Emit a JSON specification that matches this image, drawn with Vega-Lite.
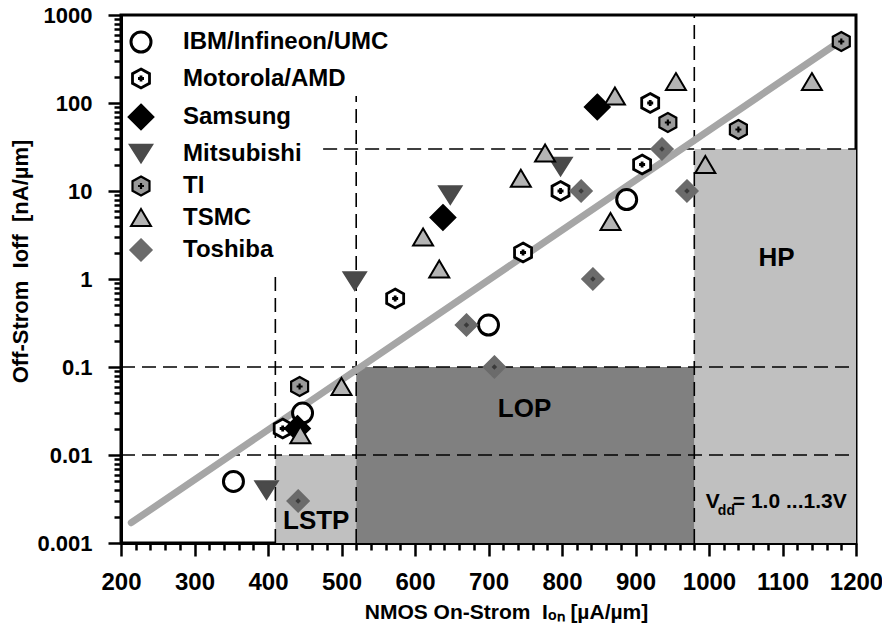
{
  "$schema": "https://vega.github.io/schema/vega-lite/v6.json",
  "width": 735,
  "height": 528,
  "autosize": {"type": "none"},
  "padding": {"left": 121, "top": 15, "right": 26, "bottom": 96},
  "background": "white",
  "config": {
    "font": "Liberation Sans",
    "view": {"stroke": "black", "strokeWidth": 3},
    "axis": {
      "grid": false,
      "domainColor": "black",
      "domainWidth": 3,
      "tickColor": "black",
      "tickWidth": 2.5,
      "labelColor": "black",
      "labelFontWeight": "bold",
      "titleColor": "black",
      "titleFontWeight": "bold",
      "labelFlush": false,
      "labelOverlap": false
    }
  },
  "datasets": {
    "points": [
      {"maker": "IBM/Infineon/UMC", "ion": 353, "ioff": 0.005},
      {"maker": "IBM/Infineon/UMC", "ion": 447, "ioff": 0.03},
      {"maker": "IBM/Infineon/UMC", "ion": 700, "ioff": 0.3},
      {"maker": "IBM/Infineon/UMC", "ion": 888, "ioff": 8},
      {"maker": "Motorola/AMD", "ion": 420, "ioff": 0.02},
      {"maker": "Motorola/AMD", "ion": 573, "ioff": 0.6},
      {"maker": "Motorola/AMD", "ion": 747, "ioff": 2},
      {"maker": "Motorola/AMD", "ion": 798, "ioff": 10},
      {"maker": "Motorola/AMD", "ion": 909, "ioff": 20},
      {"maker": "Motorola/AMD", "ion": 920, "ioff": 100},
      {"maker": "Samsung", "ion": 440, "ioff": 0.02},
      {"maker": "Samsung", "ion": 638, "ioff": 5},
      {"maker": "Samsung", "ion": 848, "ioff": 90},
      {"maker": "Mitsubishi", "ion": 398, "ioff": 0.004},
      {"maker": "Mitsubishi", "ion": 518, "ioff": 0.95},
      {"maker": "Mitsubishi", "ion": 648, "ioff": 9},
      {"maker": "Mitsubishi", "ion": 798, "ioff": 19},
      {"maker": "TI", "ion": 443, "ioff": 0.06},
      {"maker": "TI", "ion": 944, "ioff": 60},
      {"maker": "TI", "ion": 1040, "ioff": 50},
      {"maker": "TI", "ion": 1180, "ioff": 500},
      {"maker": "TSMC", "ion": 444, "ioff": 0.017},
      {"maker": "TSMC", "ion": 500, "ioff": 0.06},
      {"maker": "TSMC", "ion": 611, "ioff": 3},
      {"maker": "TSMC", "ion": 633, "ioff": 1.3},
      {"maker": "TSMC", "ion": 744, "ioff": 14},
      {"maker": "TSMC", "ion": 777, "ioff": 27},
      {"maker": "TSMC", "ion": 866, "ioff": 4.5},
      {"maker": "TSMC", "ion": 872, "ioff": 120},
      {"maker": "TSMC", "ion": 955, "ioff": 175},
      {"maker": "TSMC", "ion": 995, "ioff": 20},
      {"maker": "TSMC", "ion": 1140, "ioff": 175},
      {"maker": "Toshiba", "ion": 441, "ioff": 0.003},
      {"maker": "Toshiba", "ion": 670, "ioff": 0.3},
      {"maker": "Toshiba", "ion": 708, "ioff": 0.1},
      {"maker": "Toshiba", "ion": 826, "ioff": 10},
      {"maker": "Toshiba", "ion": 842, "ioff": 1},
      {"maker": "Toshiba", "ion": 936, "ioff": 30},
      {"maker": "Toshiba", "ion": 970, "ioff": 10}
    ],
    "regions": [
      {"region": "LSTP", "x1": 410, "x2": 520, "y1": 0.001, "y2": 0.01},
      {"region": "LOP", "x1": 520, "x2": 980, "y1": 0.001, "y2": 0.1},
      {"region": "HP", "x1": 980, "x2": 1200, "y1": 0.001, "y2": 30}
    ],
    "rules": [
      {"x1": 410, "x2": 410, "y1": 0.001, "y2": 1.2},
      {"x1": 520, "x2": 520, "y1": 0.001, "y2": 120},
      {"x1": 980, "x2": 980, "y1": 0.001, "y2": 1000},
      {"x1": 200, "x2": 1200, "y1": 0.01, "y2": 0.01},
      {"x1": 200, "x2": 1200, "y1": 0.1, "y2": 0.1},
      {"x1": 475, "x2": 1200, "y1": 30, "y2": 30}
    ],
    "fit": [
      {"ion": 214, "ioff": 0.0017},
      {"ion": 1178, "ioff": 500}
    ],
    "labels": [
      {"label": "LSTP", "ion": 465.6, "ioff": 0.0018},
      {"label": "LOP", "ion": 749, "ioff": 0.033},
      {"label": "HP", "ion": 1092, "ioff": 1.72}
    ],
    "vdd": [
      {"ion": 995.7, "ioff": 0.0025}
    ]
  },
  "layer": [
    {
      "data": {"name": "regions"},
      "transform": [{"filter": "datum.region !== 'LOP'"}],
      "mark": {"type": "rect", "fill": "#c0c0c0"},
      "encoding": {
        "x": {
          "field": "x1", "type": "quantitative",
          "scale": {"domain": [200, 1200], "nice": false, "zero": false},
          "axis": {
            "orient": "bottom",
            "values": [200, 300, 400, 500, 600, 700, 800, 900, 1000, 1100, 1200],
            "format": "d",
            "tickSize": 13,
            "labelFontSize": 24,
            "labelPadding": 14,
            "title": "NMOS On-Strom\u00a0\u00a0Iₒₙ [µA/µm]",
            "titleFontSize": 21,
            "titleX": 385,
            "titleY": 69,
            "titleBaseline": "middle"
          }
        },
        "x2": {"field": "x2"},
        "y": {
          "field": "y1", "type": "quantitative",
          "scale": {"type": "log", "domain": [0.001, 1000], "nice": false},
          "axis": {
            "orient": "left",
            "values": [0.001, 0.01, 0.1, 1, 10, 100, 1000],
            "format": "~g",
            "tickSize": 13,
            "labelFontSize": 22,
            "labelPadding": 16,
            "title": "Off-Strom\u00a0\u00a0Ioff\u00a0\u00a0[nA/µm]",
            "titleFontSize": 22,
            "titleX": -101,
            "titleY": 246,
            "titleBaseline": "middle"
          }
        },
        "y2": {"field": "y2"}
      }
    },
    {
      "data": {"name": "regions"},
      "transform": [{"filter": "datum.region === 'LOP'"}],
      "mark": {"type": "rect", "fill": "#808080"},
      "encoding": {
        "x": {"field": "x1", "type": "quantitative", "axis": null},
        "x2": {"field": "x2"},
        "y": {"field": "y1", "type": "quantitative", "axis": null},
        "y2": {"field": "y2"}
      }
    },
    {
      "data": {"name": "rules"},
      "mark": {"type": "rule", "color": "black", "strokeWidth": 1.6, "strokeDash": [14, 7]},
      "encoding": {
        "x": {"field": "x1", "type": "quantitative", "axis": null},
        "x2": {"field": "x2"},
        "y": {"field": "y1", "type": "quantitative", "axis": null},
        "y2": {"field": "y2"}
      }
    },
    {
      "data": {"name": "fit"},
      "mark": {"type": "line", "color": "#a6a6a6", "strokeWidth": 7, "strokeCap": "round"},
      "encoding": {
        "x": {"field": "ion", "type": "quantitative", "axis": null},
        "y": {"field": "ioff", "type": "quantitative", "axis": null}
      }
    },
    {
      "data": {"name": "points"},
      "mark": {"type": "point", "size": 400, "opacity": 1, "filled": true},
      "encoding": {
        "x": {"field": "ion", "type": "quantitative", "axis": null},
        "y": {"field": "ioff", "type": "quantitative", "axis": null},
        "shape": {
          "field": "maker", "type": "nominal",
          "scale": {
            "domain": ["IBM/Infineon/UMC", "Motorola/AMD", "Samsung", "Mitsubishi", "TI", "TSMC", "Toshiba"],
            "range": [
              "circle",
              "M0,-0.95L0.85,-0.48L0.85,0.48L0,0.95L-0.85,0.48L-0.85,-0.48ZM-0.3,0L0.3,0M0,-0.3L0,0.3",
              "M0,-1.2L1.2,0L0,1.2L-1.2,0Z",
              "M-1.08,-0.85L1.08,-0.85L0,0.85Z",
              "M0,-0.95L0.85,-0.48L0.85,0.48L0,0.95L-0.85,0.48L-0.85,-0.48ZM-0.3,0L0.3,0M0,-0.3L0,0.3",
              "M0,-0.85L1,0.85L-1,0.85Z",
              "M0,-1.08L1.08,0L0,1.08L-1.08,0Z"
            ]
          },
          "legend": {
            "title": null,
            "orient": "none",
            "legendX": 8,
            "legendY": 15,
            "labelFontSize": 24,
            "labelFontWeight": "bold",
            "labelColor": "black",
            "labelLimit": 400,
            "symbolSize": 400,
            "rowPadding": 4.5,
            "labelOffset": 30,
            "padding": 0
          }
        },
        "fill": {
          "field": "maker", "type": "nominal",
          "scale": {
            "domain": ["IBM/Infineon/UMC", "Motorola/AMD", "Samsung", "Mitsubishi", "TI", "TSMC", "Toshiba"],
            "range": ["white", "white", "black", "#4a4a4a", "#9a9a9a", "#b4b4b4", "#6b6b6b"]
          },
          "legend": {"title": null}
        },
        "stroke": {
          "field": "maker", "type": "nominal",
          "scale": {
            "domain": ["IBM/Infineon/UMC", "Motorola/AMD", "Samsung", "Mitsubishi", "TI", "TSMC", "Toshiba"],
            "range": ["black", "black", "black", "#4a4a4a", "black", "black", "#6b6b6b"]
          },
          "legend": {"title": null}
        },
        "strokeWidth": {
          "field": "maker", "type": "nominal",
          "scale": {
            "domain": ["IBM/Infineon/UMC", "Motorola/AMD", "Samsung", "Mitsubishi", "TI", "TSMC", "Toshiba"],
            "range": [3, 1.8, 1, 0, 1.8, 2.5, 0]
          },
          "legend": {"title": null}
        }
      }
    },
    {
      "data": {"name": "points"},
      "transform": [{"filter": "datum.maker === 'Toshiba'"}],
      "mark": {"type": "point", "shape": "diamond", "size": 30, "filled": true, "fill": "#3a3a3a", "strokeWidth": 0, "opacity": 1},
      "encoding": {
        "x": {
          "field": "ion", "type": "quantitative",
          "axis": {
            "orient": "bottom",
            "values": [220, 240, 260, 280, 320, 340, 360, 380, 420, 440, 460, 480, 520, 540, 560, 580, 620, 640, 660, 680, 720, 740, 760, 780, 820, 840, 860, 880, 920, 940, 960, 980, 1020, 1040, 1060, 1080, 1120, 1140, 1160, 1180],
            "tickSize": 7,
            "labels": false,
            "domain": false,
            "title": null
          }
        },
        "y": {
          "field": "ioff", "type": "quantitative",
          "axis": {
            "orient": "left",
            "values": [0.002, 0.003, 0.004, 0.005, 0.006, 0.007, 0.008, 0.009, 0.02, 0.03, 0.04, 0.05, 0.06, 0.07, 0.08, 0.09, 0.2, 0.3, 0.4, 0.5, 0.6, 0.7, 0.8, 0.9, 2, 3, 4, 5, 6, 7, 8, 9, 20, 30, 40, 50, 60, 70, 80, 90, 200, 300, 400, 500, 600, 700, 800, 900],
            "tickSize": 7,
            "labels": false,
            "domain": false,
            "title": null
          }
        }
      }
    },
    {
      "data": {"name": "labels"},
      "mark": {"type": "text", "fontSize": 26, "fontWeight": "bold", "color": "black", "align": "center", "baseline": "middle"},
      "encoding": {
        "x": {"field": "ion", "type": "quantitative", "axis": null},
        "y": {"field": "ioff", "type": "quantitative", "axis": null},
        "text": {"field": "label"}
      }
    },
    {
      "data": {"name": "vdd"},
      "mark": {"type": "text", "text": "V", "fontSize": 21, "fontWeight": "bold", "color": "black", "align": "left", "baseline": "alphabetic"},
      "encoding": {
        "x": {"field": "ion", "type": "quantitative", "axis": null},
        "y": {"field": "ioff", "type": "quantitative", "axis": null}
      }
    },
    {
      "data": {"name": "vdd"},
      "mark": {"type": "text", "text": "dd", "fontSize": 14, "fontWeight": "bold", "color": "black", "align": "left", "baseline": "alphabetic", "dx": 12, "dy": 7},
      "encoding": {
        "x": {"field": "ion", "type": "quantitative", "axis": null},
        "y": {"field": "ioff", "type": "quantitative", "axis": null}
      }
    },
    {
      "data": {"name": "vdd"},
      "mark": {"type": "text", "text": "= 1.0 ...1.3V", "fontSize": 21, "fontWeight": "bold", "color": "black", "align": "left", "baseline": "alphabetic", "dx": 27},
      "encoding": {
        "x": {"field": "ion", "type": "quantitative", "axis": null},
        "y": {"field": "ioff", "type": "quantitative", "axis": null}
      }
    }
  ],
  "resolve": {"axis": {"x": "independent", "y": "independent"}}
}
